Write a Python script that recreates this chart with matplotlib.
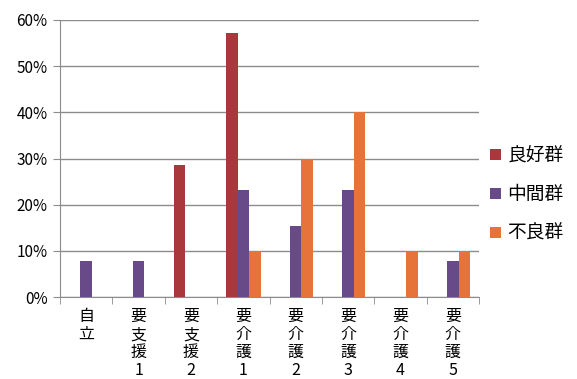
import matplotlib
matplotlib.use("Agg")
import matplotlib.pyplot as plt
import numpy as np

plt.rcParams['font.family'] = ['Noto Sans CJK JP', 'DejaVu Sans']

# data (percent)
categories = ["自立", "要支援1", "要支援2", "要介護1", "要介護2", "要介護3", "要介護4", "要介護5"]
good = [0, 0, 28.6, 57.1, 0, 0, 0, 0]
middle = [7.7, 7.7, 0, 23.1, 15.4, 23.1, 0, 7.7]
poor = [0, 0, 0, 10, 30, 40, 10, 10]
series_names = ["良好群", "中間群", "不良群"]
colors = ["#A8383B", "#684A88", "#E6733A"]

fig = plt.figure(figsize=(5.77, 3.79), dpi=100)
ax = fig.add_axes([60/577, 1-297/379, (479-60)/577, (297-20)/379])

x = np.arange(len(categories))
w = 0.22
for i, (vals, name, c) in enumerate(zip([good, middle, poor], series_names, colors)):
    ax.bar(x + (i-1)*w, vals, w, color=c, label=name, zorder=3)

ax.set_xlim(-0.5, len(categories)-0.5)
ax.set_ylim(0, 60)
ax.set_yticks(range(0, 61, 10))
ax.set_yticklabels([f"{v}%" for v in range(0, 61, 10)], fontsize=11)
ax.yaxis.grid(True, color="#8c8c8c", linewidth=1, zorder=0)
ax.tick_params(axis='y', length=5, color="#8c8c8c", pad=4)

# vertical stacked category labels
ax.set_xticks(x)
ax.set_xticklabels(["\n".join(c) for c in categories], fontsize=11.5, linespacing=1.08, va='top')
ax.tick_params(axis='x', which='major', length=0, pad=8)
ax.set_xticks(np.arange(-0.5, len(categories)), minor=True)
ax.tick_params(axis='x', which='minor', length=5, color="#8c8c8c")

for s in ['top', 'right']:
    ax.spines[s].set_visible(False)
for s in ['left', 'bottom']:
    ax.spines[s].set_color("#8c8c8c")

ax.legend(loc='center left', bbox_to_anchor=(1.0, 0.37), frameon=False, fontsize=13.5,
          handlelength=0.55, handleheight=0.55, handletextpad=0.35, labelspacing=0.95,
          borderaxespad=0.2)

fig.savefig("out.png", dpi=100)
